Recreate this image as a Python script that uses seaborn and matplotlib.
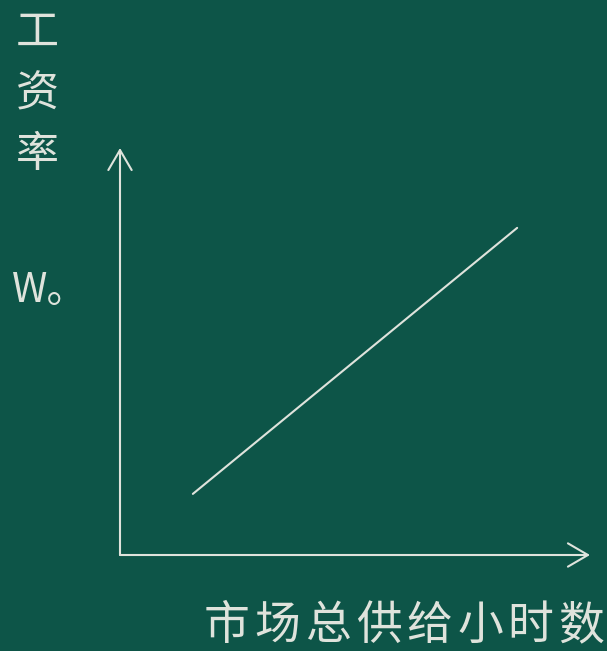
import numpy as np
import pandas as pd
import matplotlib
matplotlib.use("Agg")
import matplotlib.pyplot as plt
import seaborn as sns

# --- Data (chart units: origin at the corner of the two axes) ---
supply_hours = [1.55, 8.45]      # market total supply of hours
wage_rate = [1.30, 6.96]         # wage rate
x_axis_end = 10.0
y_axis_end = 8.66
y_label_chars = ["工", "资", "率"]
w0_label = "W。"
x_label = "市场总供给小时数"

BG = "#0d5548"
FG = "#dfe3dc"

sns.set_theme(style="white")
plt.rcParams["font.family"] = ["Noto Sans CJK SC", "DejaVu Sans"]

fig = plt.figure(figsize=(6.07, 6.51), dpi=100, facecolor=BG)
ax = fig.add_axes([0, 0, 1, 1])
ax.set_facecolor(BG)

df = pd.DataFrame({"hours": supply_hours, "wage": wage_rate})
sns.lineplot(data=df, x="hours", y="wage", ax=ax, color=FG, linewidth=1.5)

arrow = dict(arrowstyle="->,head_length=1.2,head_width=0.7", color=FG,
             linewidth=1.5, shrinkA=0, shrinkB=0)
ax.annotate("", xy=(0, y_axis_end), xytext=(0, 0), arrowprops=arrow)
ax.annotate("", xy=(x_axis_end, 0), xytext=(0, 0), arrowprops=arrow)

# pixel-like frame: 47 px per unit, origin at (120, 555)
ax.set_xlim(-120 / 47, 487 / 47)
ax.set_ylim(-96 / 47, 555 / 47)
ax.axis("off")

# vertical y label, one character per row
for i, ch in enumerate(y_label_chars):
    fig.text(37 / 607, 1 - (33 + 61 * i) / 651, ch, color=FG, fontsize=31,
             ha="center", va="center")
fig.text(12 / 607, 1 - 291 / 651, w0_label, color=FG, fontsize=29,
         ha="left", va="center")

# x label with wide letter spacing
for i, ch in enumerate(x_label):
    fig.text((227 + 50.6 * i) / 607, 1 - 626 / 651, ch, color=FG,
             fontsize=33, ha="center", va="center")

fig.savefig("out.png", dpi=100, facecolor=BG)
